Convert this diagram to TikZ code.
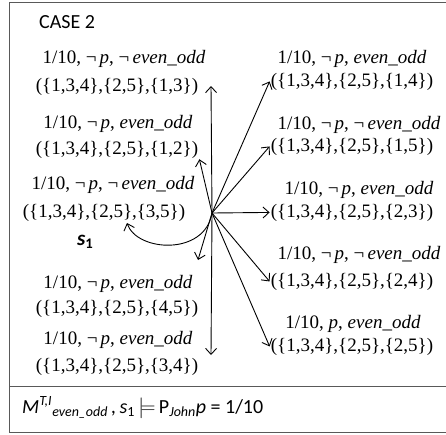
\documentclass[tikz,border=0pt]{standalone}
\usepackage{fontspec}
\setmainfont{Liberation Serif}
\newfontfamily\calfont{Carlito}
\usetikzlibrary{arrows.meta}
\newcommand{\eo}{\textit{even\_odd}}
\newcommand{\nt}{¬\,}
\newcommand{\wld}[1]{(\{1,3,4\},\{2,5\},\{#1\})}

\begin{document}
\begin{tikzpicture}[x=1pt, y=-1pt,
          every node/.style={font=\fontsize{19}{22}\selectfont, inner sep=1pt, anchor=base},
          edge/.style={-{Straight Barb[length=6pt,width=11pt]}, line width=0.9pt},
          frame/.style={draw=black!65, line width=1pt}]
        % Case 2: state s1 in the middle, ten successor worlds round it,
        % and the resulting probability at the bottom.
        % Coordinates: (x,y) in pt, y grows downwards
        \useasboundingbox (0,0) rectangle (446,434);
        \draw[frame] (9,2) rectangle (448,432);
        \draw[frame] (9,386) -- (448,386);
        \node[font=\calfont\fontsize{20}{24}\selectfont, anchor=base west] (case) at (38,28) {CASE 2};
        % left column
        \node (L1a) at (124,63) {1/10, \nt\textit{p}, \nt\eo};
        \node (L1b) at (117,91) {\wld{1,3}};
        \node (L2a) at (118,128) {1/10, \nt\textit{p}, \eo};
        \node (L2b) at (117,154) {\wld{1,2}};
        \node (L3a) at (113,189) {1/10, \nt\textit{p}, \nt\eo};
        \node (L3b) at (104,217) {\wld{3,5}};
        \node (L4a) at (118,288) {1/10, \nt\textit{p}, \eo};
        \node (L4b) at (117,313) {\wld{4,5}};
        \node (L5a) at (118,344) {1/10, \nt\textit{p}, \eo};
        \node (L5b) at (117,371) {\wld{3,4}};
        % right column
        \node (R1a) at (352,63) {1/10, \nt\textit{p}, \eo};
        \node (R1b) at (352,86) {\wld{1,4}};
        \node (R2a) at (359,129) {1/10, \nt\textit{p}, \nt\eo};
        \node (R2b) at (352,151) {\wld{1,5}};
        \node (R3a) at (359,194) {1/10, \nt\textit{p}, \eo};
        \node (R3b) at (352,217) {\wld{2,3}};
        \node (R4a) at (359,259) {1/10, \nt\textit{p}, \nt\eo};
        \node (R4b) at (352,286) {\wld{2,4}};
        \node (R5a) at (353,328) {1/10, \textit{p}, \eo};
        \node (R5b) at (352,351) {\wld{2,5}};
        % state s1
        \coordinate (s1) at (212,213);
        \node[font=\calfont\bfseries\itshape\fontsize{21}{24}\selectfont, anchor=base west]
              (s1lab) at (76,245) {s\textsubscript{\upshape 1}};
        \coordinate (up) at (211,86);
        \coordinate (down) at (211,355);
        \coordinate (dl) at (198,260);
        \coordinate (lp) at (127,223);
        \draw[edge] (s1) -- (up);
        \draw[edge] (s1) -- (L2b.south east);
        \draw[edge] (s1) -- (R1b.west);
        \draw[edge] (s1) -- (R2b.west);
        \draw[edge] (s1) -- (R3b.west);
        \draw[edge] (s1) -- (R4b.west);
        \draw[edge] (s1) -- (R5b.west);
        \draw[edge] (s1) -- (down);
        \draw[edge] (s1) -- (dl);
        \draw[edge] (s1) .. controls (205,256) and (137,252) .. (lp);
        % result
        \node[font=\calfont\fontsize{20}{24}\selectfont, anchor=base west] (res) at (21,413)
              {\textit{M}\textsuperscript{\textit{T,I}}\textsubscript{\textit{even\_odd}}\,\textit{,\,s}\textsubscript{1}\,$\models$\,P\textsubscript{\textit{John}}\textit{p} = 1/10};
      \end{tikzpicture}
\end{document}
